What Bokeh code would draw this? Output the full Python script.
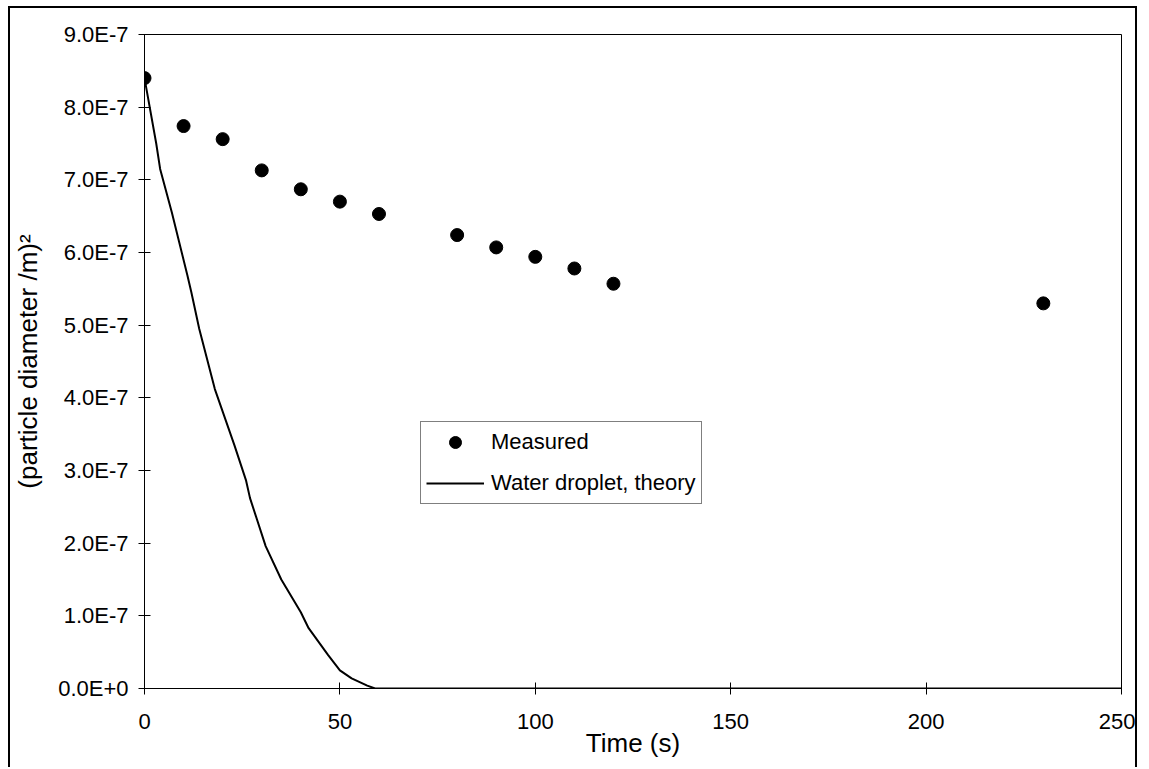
from bokeh.plotting import figure
from bokeh.models import FixedTicker, CustomJSTickFormatter, Legend, LegendItem, Range1d
from bokeh.embed import file_html
from bokeh.resources import INLINE

# Measured data (time in s, squared diameter in m^2)
measured_t = [0, 10, 20, 30, 40, 50, 60, 80, 90, 100, 110, 120, 230]
measured_d2 = [8.40e-7, 7.74e-7, 7.56e-7, 7.13e-7, 6.87e-7, 6.70e-7, 6.53e-7,
               6.24e-7, 6.07e-7, 5.94e-7, 5.78e-7, 5.57e-7, 5.30e-7]

# Water droplet theory curve
theory_t = [0, 1, 3, 4, 7, 11, 12, 14, 18, 23, 26, 27, 31, 35, 40, 42, 47, 50,
            53, 57, 59, 60, 70, 80, 90, 100, 110, 120, 130, 140, 150, 160, 170,
            180, 190, 200, 210, 220, 230, 240, 250]
theory_d2 = [8.40e-7, 8.10e-7, 7.50e-7, 7.15e-7, 6.55e-7, 5.68e-7, 5.45e-7,
             4.95e-7, 4.12e-7, 3.35e-7, 2.86e-7, 2.62e-7, 1.96e-7, 1.50e-7,
             1.05e-7, 0.83e-7, 0.46e-7, 0.25e-7, 0.14e-7, 0.04e-7, 0.0,
             0, 0, 0, 0, 0, 0, 0, 0, 0, 0, 0, 0, 0, 0, 0, 0, 0, 0, 0, 0]

x_ticks = [0, 50, 100, 150, 200, 250]
y_ticks = [0, 1e-7, 2e-7, 3e-7, 4e-7, 5e-7, 6e-7, 7e-7, 8e-7, 9e-7]

FONT = "Liberation Sans"

p = figure(width=1129, height=761, output_backend="svg", toolbar_location=None,
           x_range=Range1d(0, 250), y_range=Range1d(0, 9e-7),
           min_border_left=134, min_border_top=26, min_border_right=18,
           min_border_bottom=81)
p.styles = {"margin-left": "8px", "margin-top": "6px",
            "border-left": "2px solid black", "border-top": "2px solid black",
            "border-right": "2px solid black"}

p.grid.visible = False
p.background_fill_color = "white"
p.border_fill_color = "white"
p.outline_line_color = "black"
p.outline_line_width = 1

r_theory = p.line(theory_t, theory_d2, line_color="black", line_width=2)
r_meas = p.scatter(measured_t, measured_d2, size=13, marker="circle",
                   fill_color="black", line_color="black")

fmt = CustomJSTickFormatter(code="return tick.toExponential(1).replace('e', 'E');")

for ax in (p.xaxis[0], p.yaxis[0]):
    ax.axis_line_color = "black"
    ax.axis_line_width = 1
    ax.major_tick_line_color = "black"
    ax.major_tick_in = 6
    ax.major_tick_out = 6
    ax.minor_tick_line_color = None
    ax.major_label_text_font = FONT
    ax.major_label_text_font_size = "22px"
    ax.major_label_text_color = "black"
    ax.axis_label_text_font = FONT
    ax.axis_label_text_font_size = "26px"
    ax.axis_label_text_font_style = "normal"
    ax.axis_label_text_color = "black"

p.xaxis.ticker = FixedTicker(ticks=x_ticks)
p.yaxis.ticker = FixedTicker(ticks=y_ticks)
p.yaxis.formatter = fmt
p.xaxis.axis_label = "Time (s)"
p.yaxis.axis_label = "(particle diameter /m)²"
p.xaxis.major_label_standoff = 19
p.yaxis.major_label_standoff = 10
p.xaxis.axis_label_standoff = -4
p.yaxis.axis_label_standoff = 12

legend = Legend(items=[LegendItem(label="Measured", renderers=[r_meas]),
                       LegendItem(label="Water droplet, theory", renderers=[r_theory])],
                location=(276, 184))
legend.label_text_font = FONT
legend.label_text_font_size = "22px"
legend.label_text_color = "black"
legend.glyph_width = 58
legend.glyph_height = 30
legend.label_height = 30
legend.label_standoff = 7
legend.spacing = 11
legend.padding = 5
legend.margin = 0
legend.border_line_color = "black"
legend.border_line_width = 1
legend.background_fill_color = "white"
legend.background_fill_alpha = 1
p.add_layout(legend, "center")

open("out.html", "w").write(file_html(p, INLINE))
